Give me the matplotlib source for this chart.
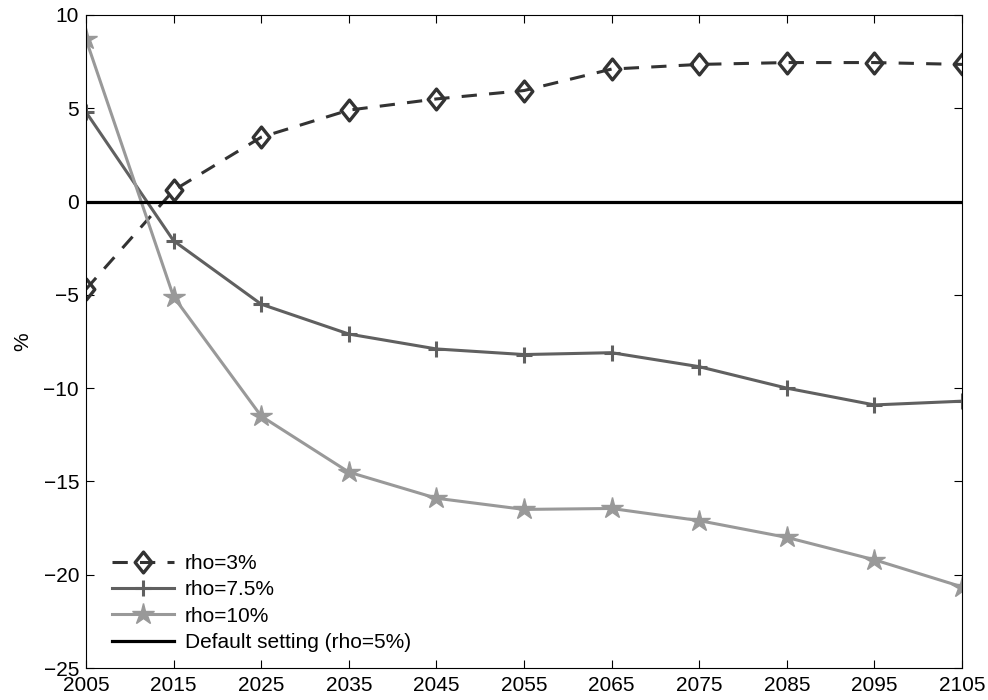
import numpy as np
import matplotlib
matplotlib.use('Agg')
import matplotlib.pyplot as plt
from matplotlib.path import Path

plt.rcParams['font.family'] = ['Liberation Sans', 'DejaVu Sans']

years = [2005, 2015, 2025, 2035, 2045, 2055, 2065, 2075, 2085, 2095, 2105]
rho_3 = [-4.7, 0.6, 3.45, 4.9, 5.5, 5.95, 7.1, 7.35, 7.45, 7.45, 7.35]
rho_75 = [4.8, -2.1, -5.5, -7.1, -7.9, -8.2, -8.1, -8.85, -10.0, -10.9, -10.7]
rho_10 = [8.7, -5.1, -11.5, -14.5, -15.9, -16.5, -16.45, -17.1, -18.0, -19.2, -20.65]
default = [0] * len(years)

# slightly tall diamond, like matlab's 'd'
diamond = Path([(0, 1), (0.8, 0), (0, -1), (-0.8, 0), (0, 1)],
               [Path.MOVETO, Path.LINETO, Path.LINETO, Path.LINETO, Path.CLOSEPOLY])

fig = plt.figure(figsize=(9.88, 7), dpi=100)
ax = fig.add_axes([0.087, 0.0457, 0.8867, 0.9329])

ax.plot(years, rho_3, '--', color='#333333', lw=2.2, marker=diamond, ms=15,
        mfc='none', mec='#333333', mew=2.4, dashes=(5, 4), label='rho=3%')
ax.plot(years, rho_75, '-', color='#606060', lw=2.2, marker='+', ms=12,
        mew=2.2, label='rho=7.5%')
ax.plot(years, rho_10, '-', color='#999999', lw=2.2, marker='*', ms=16,
        label='rho=10%')
ax.plot(years, default, '-', color='black', lw=2.3,
        label='Default setting (rho=5%)')

ax.set_xlim(2005, 2105)
ax.set_ylim(-25, 10)
ax.set_xticks(years)
ax.set_yticks(np.arange(-25, 11, 5))
ax.tick_params(direction='in', top=True, right=True, labelsize=15,
               length=6)
ax.tick_params(axis='x', pad=6)
ax.tick_params(axis='y', pad=5)
ax.set_ylabel('%', fontsize=15, labelpad=8)

ax.legend(loc='lower left', frameon=False, fontsize=15, handlelength=3.0,
          handletextpad=0.5, labelspacing=0.35, borderaxespad=0,
          bbox_to_anchor=(0.02, 0.012))

fig.savefig('out.png', dpi=100)
